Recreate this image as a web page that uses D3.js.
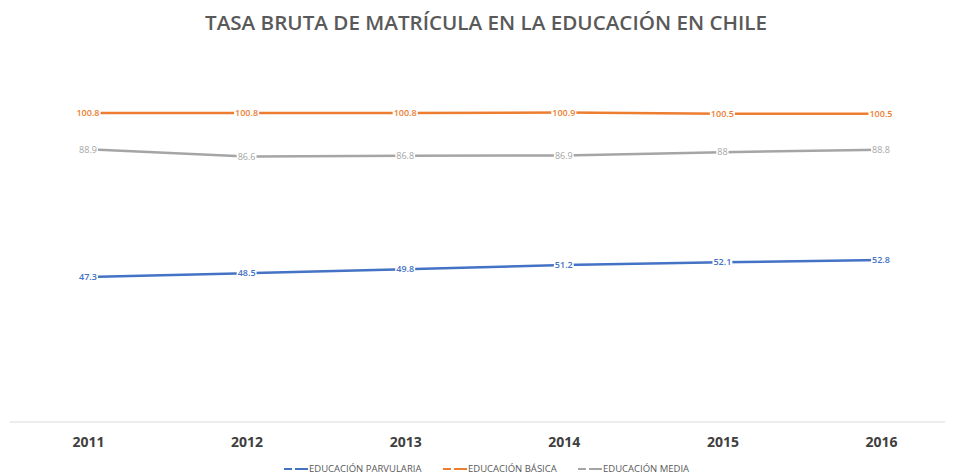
<!DOCTYPE html>
<html><head><meta charset="utf-8">
<script src="https://cdn.jsdelivr.net/npm/d3@7/dist/d3.min.js"></script>
<style>body{margin:0;background:#fff}svg{display:block}</style>
</head><body>
<svg id="c" width="953" height="476"></svg>
<script>
const years = ["2011","2012","2013","2014","2015","2016"];
const parvularia = [47.3, 48.5, 49.8, 51.2, 52.1, 52.8];
const basica = [100.8, 100.8, 100.8, 100.9, 100.5, 100.5];
const media = [88.9, 86.6, 86.8, 86.9, 88, 88.8];
const seriesNames = ["EDUCACIÓN PARVULARIA", "EDUCACIÓN BÁSICA", "EDUCACIÓN MEDIA"];
const seriesColors = ["#4472C4", "#ED7D31", "#A5A5A5"];
const title = "TASA BRUTA DE MATRÍCULA EN LA EDUCACIÓN EN CHILE";

const svg = d3.select("#c");
const font = "'Open Sans', 'Liberation Sans', sans-serif";

svg.append("text").attr("x", 486).attr("y", 30).attr("text-anchor", "middle")
  .attr("font-family", font).attr("font-weight", 600).attr("font-size", 19.5)
  .attr("fill", "#595959").attr("textLength", 562).attr("lengthAdjust","spacingAndGlyphs").text(title);

const x = d3.scalePoint().domain(years).range([88, 881]);
const y = d3.scaleLinear().domain([0, 120]).range([422, 54]);

// axis baseline
svg.append("line").attr("x1", 10).attr("x2", 945).attr("y1", y(0)).attr("y2", y(0))
  .attr("stroke", "#d9d9d9").attr("stroke-width", 1.2);

const xAxis = d3.axisBottom(x).tickSize(0).tickPadding(15);
const gx = svg.append("g").attr("transform", `translate(0,${y(0)})`).call(xAxis);
gx.select(".domain").remove();
gx.selectAll("text").attr("font-family", font).attr("font-weight", 700)
  .attr("font-size", 14).attr("fill", "#404040");

const allSeries = [parvularia, basica, media];
const line = d3.line().x((d, i) => x(years[i])).y(d => y(d));

allSeries.forEach((vals, si) => {
  svg.append("path").datum(vals).attr("d", line).attr("fill", "none")
    .attr("stroke", seriesColors[si]).attr("stroke-width", 2.5);
});

allSeries.forEach((vals, si) => {
  const g = svg.append("g");
  vals.forEach((v, i) => {
    const t = g.append("text").attr("x", x(years[i])).attr("y", y(v)).attr("dy", "0.35em")
      .attr("text-anchor", "middle").attr("font-family", font)
      .attr("font-size", 9).attr("font-weight", si === 2 ? 400 : 600)
      .attr("fill", seriesColors[si]).text(v);
    const bb = t.node().getBBox();
    g.insert("rect", "text").attr("x", bb.x - 1).attr("y", bb.y).attr("width", bb.width + 2)
      .attr("height", bb.height).attr("fill", "#fff");
  });
});

// legend
const legendX = [284, 443, 578];
const lg = svg.append("g");
seriesNames.forEach((n, i) => {
  const lx = legendX[i], ly = 469;
  lg.append("line").attr("x1", lx).attr("x2", lx + 8).attr("y1", ly).attr("y2", ly)
    .attr("stroke", seriesColors[i]).attr("stroke-width", 2);
  lg.append("line").attr("x1", lx + 11).attr("x2", lx + 24).attr("y1", ly).attr("y2", ly)
    .attr("stroke", seriesColors[i]).attr("stroke-width", 2);
  lg.append("text").attr("x", lx + 25).attr("y", ly).attr("dy", "0.35em")
    .attr("font-family", font).attr("font-size", 9.5).attr("fill", "#595959")
    .text(n);
});
</script>
</body></html>
